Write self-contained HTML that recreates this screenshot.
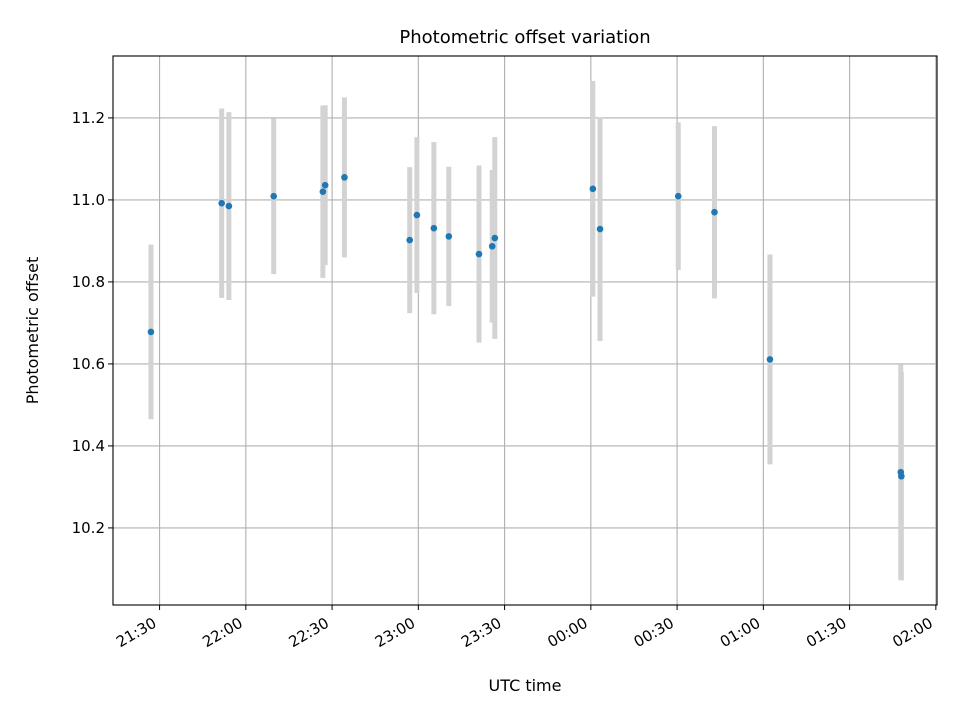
<!DOCTYPE html>
<html><head><meta charset="utf-8"><style>
body{margin:0;background:#fff;font-family:"Liberation Sans","DejaVu Sans",sans-serif}
svg text{font-family:"DejaVu Sans","Liberation Sans",sans-serif}
</style></head><body>
<svg id="chart" width="960" height="720" xmlns="http://www.w3.org/2000/svg"></svg>
<script>
// minutes after 21:30 UTC
const times = [-3.0,21.6,24.1,39.7,56.8,57.6,64.3,87.0,89.5,95.4,100.6,111.1,115.7,116.6,150.7,153.2,180.4,193.0,212.3,257.8,258.0];
const offsets = [10.678,10.992,10.985,11.009,11.020,11.036,11.055,10.902,10.963,10.931,10.911,10.868,10.887,10.907,11.027,10.929,11.009,10.970,10.611,10.336,10.326];
const errors = [0.213,0.231,0.229,0.19,0.21,0.195,0.195,0.178,0.19,0.21,0.17,0.216,0.186,0.246,0.263,0.273,0.18,0.21,0.256,0.262,0.254];
const xTicks = [0,30,60,90,120,150,180,210,240,270];
const xTickLabels = ["21:30","22:00","22:30","23:00","23:30","00:00","00:30","01:00","01:30","02:00"];
const yTicks = [10.2,10.4,10.6,10.8,11.0,11.2];

const L=113,R=937,T=56,B=605;
const xMin=-16.2,xMax=270.4,yMin=10.012,yMax=11.351;
const xs=t=>L+(t-xMin)/(xMax-xMin)*(R-L);
const ys=v=>B-(v-yMin)/(yMax-yMin)*(B-T);
const svg=document.getElementById('chart');
const NS='http://www.w3.org/2000/svg';
function mk(tag,attrs,parent){const e=document.createElementNS(NS,tag);for(const k in attrs)e.setAttribute(k,attrs[k]);(parent||svg).appendChild(e);return e;}

const grid=mk('g',{});


xTicks.forEach((t,i)=>{
  const x=xs(t);
  const gl=mk('line',{x1:x,x2:x,y1:T,y2:B,stroke:'#b0b0b0','stroke-width':1.1},grid);
  
  
  const tk=mk('line',{x1:x,x2:x,y1:B,y2:B+5,stroke:'#000','stroke-width':1});
  
  
  const ax=x-2, ay=B+21;
  const tx=mk('text',{x:ax,y:ay,'font-size':15,'text-anchor':'end',transform:`rotate(-30 ${ax} ${ay})`});
  tx.textContent=xTickLabels[i];
  
  
});
yTicks.forEach(v=>{
  const y=ys(v);
  const gl=mk('line',{x1:L,x2:R,y1:y,y2:y,stroke:'#b0b0b0','stroke-width':1.1},grid);
  
  
  const tk=mk('line',{x1:L-5,x2:L,y1:y,y2:y,stroke:'#000','stroke-width':1});
  
  
  const tx=mk('text',{x:L-8,y:y+5,'font-size':15,'text-anchor':'end'});
  tx.textContent=v.toFixed(1);
  
  
});
const eb=mk('g',{});


times.forEach((t,i)=>{
  const l=mk('line',{x1:xs(t),x2:xs(t),y1:ys(offsets[i]+errors[i]),y2:ys(offsets[i]-errors[i]),stroke:'#d3d3d3','stroke-width':5},eb);
  
  
});
const pts=mk('g',{});


times.forEach((t,i)=>{
  const c=mk('circle',{cx:xs(t),cy:ys(offsets[i]),r:3.3,fill:'#1f77b4'},pts);
  
  
});
const fr=mk('rect',{x:L,y:T,width:R-L,height:B-T,fill:'none',stroke:'#000','stroke-width':1.1});


const ti=mk('text',{x:(L+R)/2,y:43,'font-size':18,'text-anchor':'middle'});
ti.textContent='Photometric offset variation';


const xl=mk('text',{x:(L+R)/2,y:691,'font-size':16,'text-anchor':'middle'});
xl.textContent='UTC time';


const yl=mk('text',{x:38,y:(T+B)/2,'font-size':16,'text-anchor':'middle',transform:`rotate(-90 38 ${(T+B)/2})`});
yl.textContent='Photometric offset';


</script>
</body></html>
